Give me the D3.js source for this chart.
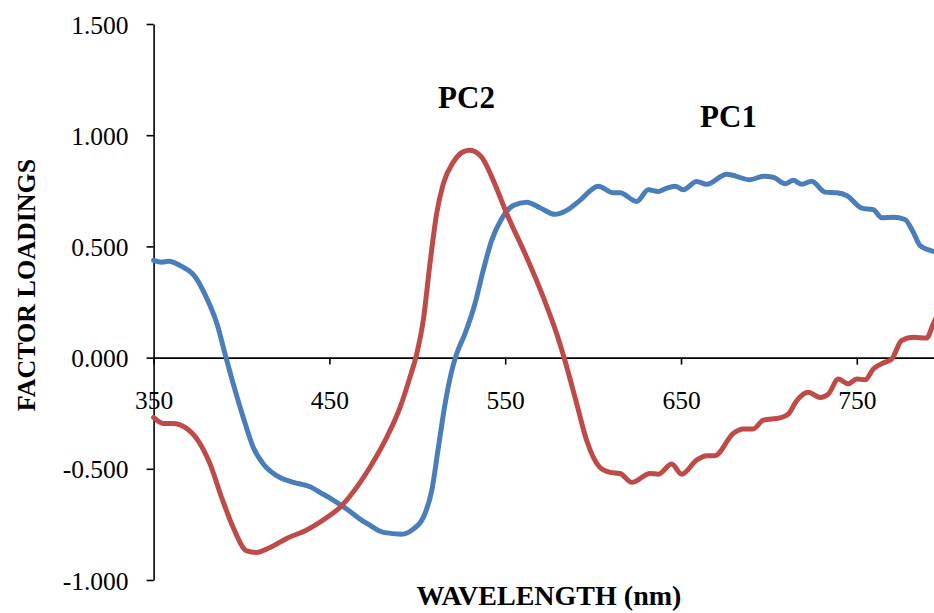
<!DOCTYPE html>
<html>
<head>
<meta charset="utf-8">
<script src="https://cdn.jsdelivr.net/npm/d3@7"></script>
<style>
    html, body { margin: 0; padding: 0; background: #fff; }
    svg { display: block; font-family: "Liberation Serif", "Times New Roman", serif; }
</style>
</head>
<body>
<div id="chart"></div>
<script>
// PC1 loadings (blue)
const pc1Wavelength = [350, 354.6, 358.4, 366, 373.5, 379, 386, 391.2, 395.3, 401, 406.7, 412.4, 420, 429.5, 439, 444.6, 451.3, 459.8, 467.4, 472, 480.7, 491, 497.7, 503.4, 508.2, 512, 515.8, 519.6, 522.4, 527.1, 532.8, 537.5, 542.3, 548, 554.6, 562.2, 569.8, 578.3, 585, 592.5, 603, 611.5, 615.3, 624.8, 631.4, 637.1, 640.9, 646.6, 651.3, 658.9, 664.6, 676, 689.2, 696.8, 702.5, 709.2, 713.9, 718.7, 724.3, 731.9, 738.6, 744.2, 752.8, 759.4, 764.2, 770.8, 777.4, 782.1, 786, 793.5, 800];
const pc1Values = [0.437, 0.429, 0.433, 0.41, 0.365, 0.288, 0.153, 0.0, -0.118, -0.269, -0.404, -0.478, -0.531, -0.561, -0.581, -0.606, -0.636, -0.681, -0.726, -0.749, -0.786, -0.794, -0.771, -0.719, -0.599, -0.404, -0.208, -0.059, 0.017, 0.107, 0.242, 0.392, 0.527, 0.624, 0.684, 0.699, 0.674, 0.644, 0.662, 0.707, 0.771, 0.741, 0.741, 0.702, 0.755, 0.747, 0.759, 0.771, 0.755, 0.792, 0.779, 0.824, 0.8, 0.815, 0.811, 0.782, 0.797, 0.779, 0.793, 0.744, 0.741, 0.729, 0.672, 0.665, 0.629, 0.631, 0.621, 0.564, 0.504, 0.478, 0.46];

// PC2 loadings (red)
const pc2Wavelength = [350, 355.5, 361.2, 367.9, 375.4, 382.1, 388.7, 395.3, 403, 408.6, 416.2, 425.7, 437.1, 448.5, 456, 462, 473, 482.6, 490.2, 495.8, 499.7, 503.4, 507.2, 511, 514.8, 520.5, 526, 530, 536.6, 543.2, 550.9, 562.2, 571.7, 579.3, 584, 590.7, 596.4, 603.9, 609.6, 615.3, 622, 632.4, 637.1, 644.7, 650.4, 658.9, 664.6, 669.3, 679.7, 685.4, 691.1, 696.8, 706.3, 711, 715.8, 722.4, 729.1, 733.8, 739.5, 745.2, 749.9, 754.7, 759.4, 766, 769.9, 775.5, 782.1, 789.7, 793.5, 800];
const pc2Values = [-0.269, -0.296, -0.296, -0.314, -0.374, -0.478, -0.629, -0.764, -0.869, -0.876, -0.854, -0.813, -0.775, -0.719, -0.674, -0.62, -0.494, -0.359, -0.224, -0.089, 0.017, 0.167, 0.422, 0.647, 0.782, 0.879, 0.925, 0.932, 0.901, 0.797, 0.647, 0.451, 0.271, 0.107, -0.014, -0.208, -0.374, -0.494, -0.516, -0.521, -0.561, -0.521, -0.524, -0.478, -0.524, -0.461, -0.441, -0.441, -0.341, -0.321, -0.321, -0.281, -0.271, -0.254, -0.194, -0.156, -0.179, -0.164, -0.096, -0.118, -0.096, -0.1, -0.051, -0.021, -0.006, 0.077, 0.091, 0.088, 0.152, 0.26];

const xTicks = [350, 450, 550, 650, 750];
const yTicks = [-1, -0.5, 0, 0.5, 1, 1.5];

const width = 934;
const height = 613;
const fontStack = '"Liberation Serif", "Times New Roman", serif';

const svg = d3.select('#chart')
    .append('svg')
    .attr('width', width)
    .attr('height', height);

const x = d3.scaleLinear()
    .domain([350, 800])
    .range([153.6, 944.7]);

const y = d3.scaleLinear()
    .domain([-1, 1.5])
    .range([580, 24]);

// y axis, plain hyphen for negatives like the original
const fmt = d3.format('.3f');
const yAxis = svg.append('g')
    .attr('transform', `translate(${x(350)},0)`)
    .call(d3.axisLeft(y)
        .tickValues(yTicks)
        .tickSize(7)
        .tickSizeOuter(0)
        .tickPadding(18)
        .tickFormat(d => fmt(d).replace('\u2212', '-')));
yAxis.select('.domain').attr('stroke', '#000').attr('stroke-width', 1.6);
yAxis.selectAll('.tick line').attr('stroke', '#000').attr('stroke-width', 1.6);
yAxis.selectAll('.tick text')
    .attr('fill', '#000')
    .style('font-size', '25.5px')
    .style('font-family', fontStack)
    .attr('dy', '0.36em');

// x axis sits on zero
const xAxis = svg.append('g')
    .attr('transform', `translate(0,${y(0)})`)
    .call(d3.axisBottom(x)
        .tickValues(xTicks)
        .tickSize(7)
        .tickSizeOuter(0)
        .tickFormat(d3.format('d')));
xAxis.select('.domain').attr('stroke', '#000').attr('stroke-width', 1.6);
xAxis.selectAll('.tick line').attr('stroke', '#000').attr('stroke-width', 1.6);
xAxis.selectAll('.tick text')
    .attr('fill', '#000')
    .style('font-size', '25.5px')
    .style('font-family', fontStack)
    .attr('y', 51)
    .attr('dy', 0);

const line = d3.line()
    .x(d => x(d[0]))
    .y(d => y(d[1]))
    .curve(d3.curveMonotoneX);

const series = [
    { name: 'PC1', nm: pc1Wavelength, values: pc1Values, color: '#4a7ebb' },
    { name: 'PC2', nm: pc2Wavelength, values: pc2Values, color: '#be4b48' }
];

series.forEach(s => {
    svg.append('path')
        .datum(s.nm.map((w, i) => [w, s.values[i]]))
        .attr('fill', 'none')
        .attr('stroke', s.color)
        .attr('stroke-width', 5)
        .attr('stroke-linejoin', 'round')
        .attr('stroke-linecap', 'round')
        .attr('d', line);
});

// series labels
svg.append('text')
    .attr('x', 466.5)
    .attr('y', 108)
    .attr('text-anchor', 'middle')
    .style('font-size', '31px')
    .style('font-weight', 'bold')
    .text('PC2');

svg.append('text')
    .attr('x', 728.5)
    .attr('y', 127)
    .attr('text-anchor', 'middle')
    .style('font-size', '31px')
    .style('font-weight', 'bold')
    .text('PC1');

// axis titles
svg.append('text')
    .attr('transform', 'translate(35,285) rotate(-90)')
    .attr('text-anchor', 'middle')
    .style('font-size', '26px')
    .style('font-weight', 'bold')
    .text('FACTOR LOADINGS');

// kept just inside the bottom edge
svg.append('text')
    .attr('x', 549)
    .attr('y', 605)
    .attr('text-anchor', 'middle')
    .style('font-size', '28px')
    .style('font-weight', 'bold')
    .text('WAVELENGTH (nm)');
</script>
</body>
</html>
